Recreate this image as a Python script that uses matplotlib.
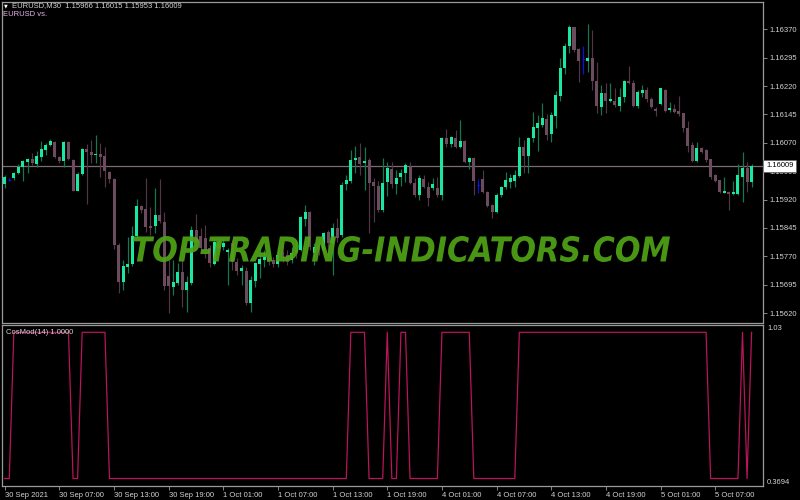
import matplotlib
matplotlib.use('Agg')
import matplotlib.pyplot as plt
import numpy as np
from matplotlib.textpath import TextPath
from matplotlib.patches import PathPatch
from matplotlib.font_manager import FontProperties
from matplotlib.transforms import Affine2D, blended_transform_factory

plt.rcParams['font.family'] = ['Liberation Sans', 'DejaVu Sans']

# EURUSD M30 candles, 30 Sep 2021 01:00 .. 5 Oct 2021
opens = [1.15961, 1.15973, 1.15976, 1.15990, 1.16005, 1.16019, 1.16028, 1.16014, 1.16033, 1.16051,
         1.16063, 1.16072, 1.16033, 1.16021, 1.16072, 1.16025, 1.15944, 1.15988, 1.16054, 1.16046,
         1.16037, 1.16040, 1.16035, 1.15994, 1.15975, 1.15800, 1.15703, 1.15741, 1.15750, 1.15824,
         1.15903, 1.15894, 1.15850, 1.15850, 1.15879, 1.15862, 1.15717, 1.15690, 1.15699, 1.15730,
         1.15681, 1.15699, 1.15840, 1.15824, 1.15819, 1.15792, 1.15750, 1.15808, 1.15794, 1.15782,
         1.15805, 1.15756, 1.15732, 1.15732, 1.15646, 1.15706, 1.15750, 1.15761, 1.15769, 1.15761,
         1.15750, 1.15782, 1.15774, 1.15761, 1.15787, 1.15787, 1.15868, 1.15888, 1.15778, 1.15800,
         1.15787, 1.15835, 1.15805, 1.15844, 1.15827, 1.15961, 1.15970, 1.16025, 1.16033, 1.16017,
         1.16025, 1.15967, 1.15956, 1.15893, 1.15967, 1.16000, 1.15960, 1.15981, 1.15990, 1.16007,
         1.15964, 1.15932, 1.15974, 1.15954, 1.15950, 1.15950, 1.15932, 1.16083, 1.16066, 1.16083,
         1.16060, 1.16075, 1.16020, 1.16031, 1.15959, 1.15974, 1.15941, 1.15906, 1.15886, 1.15932,
         1.15952, 1.15967, 1.15969, 1.15983, 1.16060, 1.16036, 1.16082, 1.16110, 1.16117, 1.16133,
         1.16092, 1.16142, 1.16194, 1.16267, 1.16326, 1.16375, 1.16319, 1.16291, 1.16287, 1.16293,
         1.16234, 1.16165, 1.16201, 1.16180, 1.16180, 1.16168, 1.16192, 1.16233, 1.16227, 1.16168,
         1.16201, 1.16209, 1.16186, 1.16159, 1.16172, 1.16209, 1.16156, 1.16159, 1.16154, 1.16148,
         1.16108, 1.16064, 1.16022, 1.16057, 1.16051, 1.16027, 1.15985, 1.15972, 1.15938, 1.15941,
         1.15935, 1.15935, 1.15981, 1.16004, 1.15966]
highs = [1.15985, 1.15977, 1.15994, 1.16014, 1.16025, 1.16031, 1.16044, 1.16048, 1.16076, 1.16070,
         1.16079, 1.16074, 1.16035, 1.16076, 1.16074, 1.16026, 1.15994, 1.16056, 1.16067, 1.16077,
         1.16091, 1.16069, 1.16060, 1.15995, 1.15976, 1.15805, 1.15761, 1.15822, 1.15849, 1.15921,
         1.15906, 1.15976, 1.15901, 1.15950, 1.15974, 1.15888, 1.15761, 1.15761, 1.15752, 1.15761,
         1.15717, 1.15849, 1.15882, 1.15845, 1.15853, 1.15800, 1.15819, 1.15819, 1.15819, 1.15792,
         1.15813, 1.15766, 1.15747, 1.15743, 1.15717, 1.15756, 1.15796, 1.15787, 1.15778, 1.15769,
         1.15796, 1.15805, 1.15787, 1.15796, 1.15813, 1.15877, 1.15906, 1.15890, 1.15805, 1.15813,
         1.15835, 1.15840, 1.15858, 1.15871, 1.15967, 1.15985, 1.16051, 1.16062, 1.16069, 1.16058,
         1.16029, 1.15978, 1.15970, 1.16031, 1.16020, 1.16020, 1.15998, 1.16001, 1.16016, 1.16020,
         1.15976, 1.15985, 1.15985, 1.15967, 1.15976, 1.15981, 1.16086, 1.16106, 1.16088, 1.16104,
         1.16130, 1.16077, 1.16033, 1.16033, 1.15974, 1.15998, 1.15942, 1.15908, 1.15937, 1.15957,
         1.15992, 1.15987, 1.15998, 1.16086, 1.16077, 1.16086, 1.16152, 1.16143, 1.16174, 1.16145,
         1.16152, 1.16207, 1.16295, 1.16333, 1.16381, 1.16377, 1.16320, 1.16326, 1.16385, 1.16368,
         1.16284, 1.16223, 1.16227, 1.16227, 1.16214, 1.16216, 1.16236, 1.16273, 1.16236, 1.16209,
         1.16223, 1.16218, 1.16192, 1.16165, 1.16216, 1.16212, 1.16178, 1.16172, 1.16194, 1.16150,
         1.16128, 1.16071, 1.16071, 1.16060, 1.16054, 1.16028, 1.15987, 1.15973, 1.15981, 1.15943,
         1.15969, 1.16013, 1.16046, 1.16020, 1.16015]
lows = [1.15951, 1.15969, 1.15972, 1.15988, 1.15970, 1.15990, 1.16011, 1.16007, 1.16023, 1.16038,
        1.16062, 1.16029, 1.16016, 1.16005, 1.16025, 1.15942, 1.15942, 1.15985, 1.15908, 1.16017,
        1.16017, 1.15979, 1.15954, 1.15963, 1.15789, 1.15673, 1.15680, 1.15727, 1.15745, 1.15822,
        1.15884, 1.15835, 1.15827, 1.15831, 1.15857, 1.15681, 1.15620, 1.15668, 1.15695, 1.15637,
        1.15624, 1.15695, 1.15787, 1.15782, 1.15766, 1.15743, 1.15747, 1.15782, 1.15787, 1.15695,
        1.15734, 1.15721, 1.15695, 1.15642, 1.15624, 1.15690, 1.15713, 1.15743, 1.15747, 1.15743,
        1.15743, 1.15756, 1.15747, 1.15752, 1.15766, 1.15783, 1.15849, 1.15787, 1.15747, 1.15774,
        1.15778, 1.15769, 1.15721, 1.15809, 1.15822, 1.15945, 1.15964, 1.15990, 1.15985, 1.15945,
        1.15831, 1.15862, 1.15888, 1.15887, 1.15930, 1.15950, 1.15935, 1.15957, 1.15967, 1.15960,
        1.15928, 1.15919, 1.15950, 1.15904, 1.15945, 1.15928, 1.15919, 1.16060, 1.16060, 1.16055,
        1.16055, 1.16016, 1.16001, 1.15932, 1.15937, 1.15937, 1.15901, 1.15871, 1.15884, 1.15928,
        1.15948, 1.15950, 1.15954, 1.15981, 1.15990, 1.15990, 1.16073, 1.16048, 1.16112, 1.16077,
        1.16071, 1.16110, 1.16180, 1.16253, 1.16306, 1.16311, 1.16231, 1.16251, 1.16258, 1.16209,
        1.16148, 1.16143, 1.16148, 1.16178, 1.16165, 1.16154, 1.16177, 1.16226, 1.16165, 1.16163,
        1.16192, 1.16177, 1.16163, 1.16142, 1.16170, 1.16152, 1.16152, 1.16150, 1.16142, 1.16099,
        1.16046, 1.16020, 1.16019, 1.16043, 1.16020, 1.15974, 1.15967, 1.15937, 1.15937, 1.15893,
        1.15932, 1.15932, 1.15913, 1.15941, 1.15953]
closes = [1.15979, 1.15973, 1.15991, 1.16005, 1.16021, 1.16028, 1.16016, 1.16035, 1.16053, 1.16065,
          1.16074, 1.16032, 1.16021, 1.16072, 1.16026, 1.15944, 1.15988, 1.16054, 1.16046, 1.16039,
          1.16040, 1.16033, 1.15995, 1.15974, 1.15800, 1.15703, 1.15745, 1.15750, 1.15824, 1.15903,
          1.15893, 1.15847, 1.15844, 1.15879, 1.15864, 1.15692, 1.15692, 1.15703, 1.15730, 1.15681,
          1.15701, 1.15840, 1.15809, 1.15792, 1.15787, 1.15752, 1.15809, 1.15792, 1.15806, 1.15787,
          1.15756, 1.15732, 1.15739, 1.15646, 1.15708, 1.15752, 1.15762, 1.15769, 1.15756, 1.15750,
          1.15774, 1.15765, 1.15755, 1.15778, 1.15778, 1.15875, 1.15888, 1.15796, 1.15796, 1.15787,
          1.15831, 1.15805, 1.15844, 1.15818, 1.15959, 1.15972, 1.16025, 1.16031, 1.16014, 1.16022,
          1.15964, 1.15956, 1.15893, 1.15964, 1.16003, 1.15960, 1.15978, 1.15990, 1.16011, 1.15963,
          1.15932, 1.15976, 1.15952, 1.15923, 1.15960, 1.15932, 1.16083, 1.16066, 1.16086, 1.16060,
          1.16075, 1.16020, 1.16031, 1.15969, 1.15959, 1.15939, 1.15904, 1.15886, 1.15932, 1.15952,
          1.15972, 1.15976, 1.15985, 1.16060, 1.16036, 1.16083, 1.16112, 1.16122, 1.16135, 1.16091,
          1.16143, 1.16196, 1.16268, 1.16326, 1.16375, 1.16315, 1.16287, 1.16291, 1.16293, 1.16234,
          1.16167, 1.16201, 1.16180, 1.16186, 1.16170, 1.16192, 1.16234, 1.16227, 1.16168, 1.16205,
          1.16209, 1.16186, 1.16165, 1.16154, 1.16214, 1.16155, 1.16161, 1.16152, 1.16145, 1.16110,
          1.16062, 1.16022, 1.16055, 1.16046, 1.16025, 1.15981, 1.15969, 1.15939, 1.15943, 1.15935,
          1.15941, 1.15985, 1.16003, 1.15967, 1.16009]

# CosMod(14) indicator
cosmod = [0.4, 0.4, 1.0, 1.0, 1.0, 1.0, 1.0, 1.0, 1.0, 1.0,
          1.0, 1.0, 1.0, 1.0, 1.0, 0.4, 0.4, 1.0, 1.0, 1.0,
          1.0, 1.0, 1.0, 0.4, 0.4, 0.4, 0.4, 0.4, 0.4, 0.4,
          0.4, 0.4, 0.4, 0.4, 0.4, 0.4, 0.4, 0.4, 0.4, 0.4,
          0.4, 0.4, 0.4, 0.4, 0.4, 0.4, 0.4, 0.4, 0.4, 0.4,
          0.4, 0.4, 0.4, 0.4, 0.4, 0.4, 0.4, 0.4, 0.4, 0.4,
          0.4, 0.4, 0.4, 0.4, 0.4, 0.4, 0.4, 0.4, 0.4, 0.4,
          0.4, 0.4, 0.4, 0.4, 0.4, 0.4, 1.0, 1.0, 1.0, 1.0,
          0.4, 0.4, 0.4, 0.4, 1.0, 0.4, 0.4, 1.0, 1.0, 0.4,
          0.4, 0.4, 0.4, 0.4, 0.4, 0.4, 1.0, 1.0, 1.0, 1.0,
          1.0, 1.0, 1.0, 0.4, 0.4, 0.4, 0.4, 0.4, 0.4, 0.4,
          0.4, 0.4, 0.4, 1.0, 1.0, 1.0, 1.0, 1.0, 1.0, 1.0,
          1.0, 1.0, 1.0, 1.0, 1.0, 1.0, 1.0, 1.0, 1.0, 1.0,
          1.0, 1.0, 1.0, 1.0, 1.0, 1.0, 1.0, 1.0, 1.0, 1.0,
          1.0, 1.0, 1.0, 1.0, 1.0, 1.0, 1.0, 1.0, 1.0, 1.0,
          1.0, 1.0, 1.0, 1.0, 1.0, 0.4, 0.4, 0.4, 0.4, 0.4,
          0.4, 0.4, 1.0, 0.4, 1.0]

time_ticks = [0, 12, 24, 36, 48, 60, 72, 84, 96, 108, 120, 132, 144, 156]
time_labels = ['30 Sep 2021', '30 Sep 07:00', '30 Sep 13:00', '30 Sep 19:00', '1 Oct 01:00',
               '1 Oct 07:00', '1 Oct 13:00', '1 Oct 19:00', '4 Oct 01:00', '4 Oct 07:00',
               '4 Oct 13:00', '4 Oct 19:00', '5 Oct 01:00', '5 Oct 07:00']
price_ticks = [1.15620, 1.15695, 1.15770, 1.15845, 1.15920, 1.15995, 1.16070, 1.16145, 1.16220, 1.16295, 1.16370]
last_price = 1.16009

bg = 'black'
frame = '#9a9a9a'
txt = '#d4d4d4'
fs = 5.5

fig = plt.figure(figsize=(8, 5), dpi=100, facecolor=bg)
ax = fig.add_axes([2/800, 1-323/500, 761/800, 321/500], facecolor=bg)
ax2 = fig.add_axes([2/800, 14/500, 761/800, 161/500], facecolor=bg)

x = np.arange(len(opens))
o = np.array(opens); h = np.array(highs); l = np.array(lows); c = np.array(closes)
up = c > o
dn = c < o
doji = c == o

# wicks
ax.vlines(x[up], l[up], h[up], colors='#0e7a4e', lw=0.85, zorder=2)
ax.vlines(x[dn], l[dn], h[dn], colors='#523646', lw=0.85, zorder=2)
ax.vlines(x[doji], l[doji], h[doji], colors='#1010e0', lw=0.85, zorder=2)
# bodies
w = 0.66
body = np.maximum(np.abs(c - o), 0.000018)
ax.bar(x[up], body[up], bottom=o[up], width=w, color='#1ae8a2', lw=0, zorder=3)
ax.bar(x[dn], body[dn], bottom=c[dn], width=w, color='#6b4b5d', lw=0, zorder=3)
ax.hlines(o[doji], x[doji]-w/2, x[doji]+w/2, colors='#1010e0', lw=0.85, zorder=3)

ax.axhline(last_price, color='#7d6b73', lw=0.9, zorder=1)

ax.set_xlim(-0.6, 166.5)
ax.set_ylim(1.15594, 1.16442)
ax.set_xticks([])
ax.yaxis.tick_right()
ax.set_yticks(price_ticks)
ax.set_yticklabels(['%.5f' % p for p in price_ticks])
ax.tick_params(axis='y', colors=frame, labelcolor=txt, labelsize=fs, length=3, width=0.6, pad=1.5)
for s in ax.spines.values():
    s.set_color(frame)
    s.set_linewidth(0.9)

tr = blended_transform_factory(ax.transAxes, ax.transData)
ax.text(1.004, last_price, '%.5f' % last_price, transform=tr, fontsize=fs, color='black',
        va='center', ha='left', zorder=20,
        bbox=dict(boxstyle='square,pad=0.35', fc='white', ec='#606060', lw=0.5))

fig.text(4/800, 1-6/500, '\u25bc', fontsize=3.5, color='white', va='center', ha='left', family='DejaVu Sans')
fig.text(12/800, 1-6/500, 'EURUSD,M30  1.15966 1.16015 1.15953 1.16009', fontsize=fs, color=txt, va='center', ha='left')
fig.text(3/800, 1-15/500, 'EURUSD vs.', fontsize=fs, color='#e6b4e6', va='center', ha='left')

# indicator window
ax2.plot(x, cosmod, color='#b8155a', lw=0.9)
ax2.set_xlim(-0.6, 166.5)
ax2.set_ylim(0.3694, 1.03)
ax2.yaxis.tick_right()
ax2.set_yticks([0.3694, 1.03])
ax2.set_yticklabels(['0.3694', '1.03'])
ylabs = ax2.get_yticklabels()
ylabs[0].set_va('bottom')
ylabs[1].set_va('top')
ax2.tick_params(axis='y', colors=frame, labelcolor=txt, labelsize=fs, length=0, pad=3)
ax2.set_xticks(time_ticks)
ax2.set_xticklabels(time_labels, ha='left')
ax2.tick_params(axis='x', colors=frame, labelcolor=txt, labelsize=fs, length=3, width=0.6, pad=1.5)
for s in ax2.spines.values():
    s.set_color(frame)
    s.set_linewidth(0.9)
ax2.text(4/761, 1-7/161, 'CosMod(14) 1.0000', transform=ax2.transAxes, fontsize=fs, color=txt, va='center', ha='left')

# watermark
tp = TextPath((0, 0), 'TOP-TRADING-INDICATORS.COM', size=1,
              prop=FontProperties(family='DejaVu Sans', weight='bold', style='italic'))
ext = tp.get_extents()
sx = (670 - 133) / 800 / ext.width
sy = 26 / 500 / ext.height
wm_tr = Affine2D().translate(-ext.x0, -ext.y0).scale(sx, sy).translate(133/800, 1-262/500) + fig.transFigure
fig.add_artist(PathPatch(tp, transform=wm_tr, fc='#4fa316', ec='none', alpha=0.93, zorder=10))

plt.savefig('out.png', dpi=100, facecolor=bg)
